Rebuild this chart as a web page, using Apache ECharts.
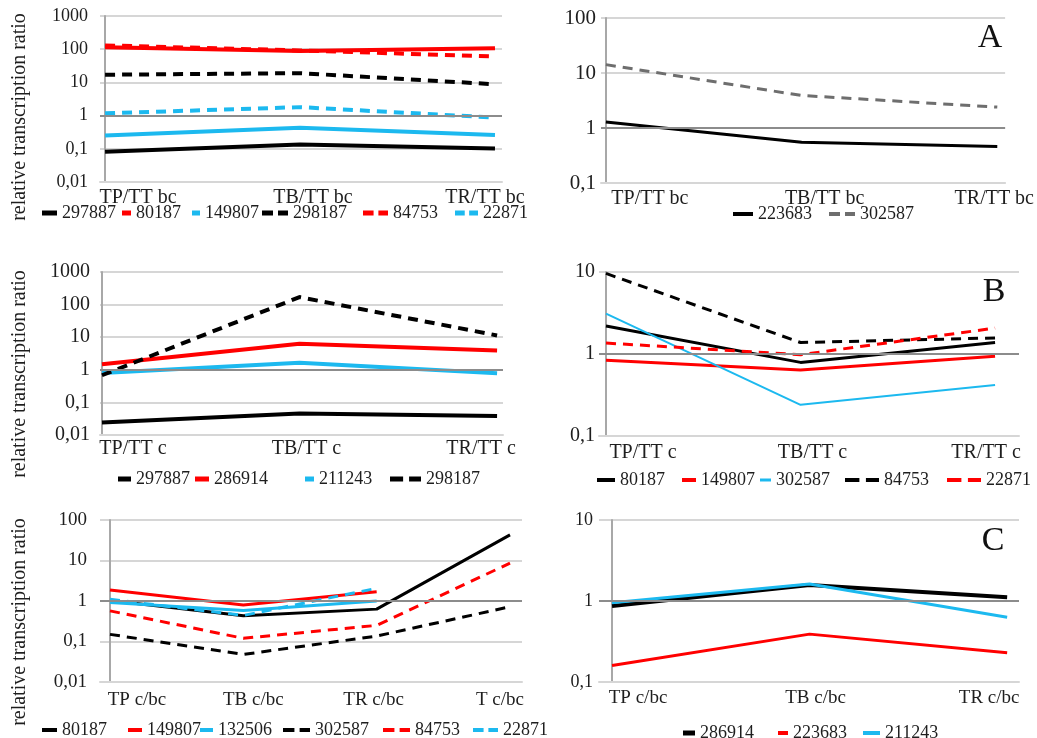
<!DOCTYPE html>
<html><head><meta charset="utf-8">
<script src="https://cdn.jsdelivr.net/npm/echarts@6/dist/echarts.min.js"></script>
<style>html,body{margin:0;padding:0;background:#fff}#c{width:1037px;height:738px}</style>
</head><body><div id="c"></div>
<script>
// ---------- categories ----------
const catsBC = ['TP/TT bc', 'TB/TT bc', 'TR/TT bc'];
const catsC = ['TP/TT c', 'TB/TT c', 'TR/TT c'];
const catsCBC4 = ['TP c/bc', 'TB c/bc', 'TR c/bc', 'T c/bc'];
const catsCBC3 = ['TP c/bc', 'TB c/bc', 'TR c/bc'];

// ---------- panel 1 (top-left) ----------
const p1_297887 = [0.081, 0.135, 0.102];
const p1_80187 = [115, 88, 107];
const p1_149807 = [0.25, 0.43, 0.26];
const p1_298187 = [17, 19, 8.8];
const p1_84753 = [130, 92, 60];
const p1_22871 = [1.17, 1.8, 0.87];

// ---------- panel 2 (A) ----------
const p2_223683 = [1.28, 0.55, 0.46];
const p2_302587 = [14.2, 3.9, 2.4];

// ---------- panel 3 (mid-left) ----------
const p3_297887 = [0.024, 0.046, 0.038];
const p3_286914 = [1.49, 6.3, 3.9];
const p3_211243 = [0.8, 1.65, 0.78];
const p3_298187 = [0.68, 170, 11.3];

// ---------- panel 4 (B) ----------
const p4_80187 = [2.2, 0.79, 1.38];
const p4_149807 = [0.84, 0.64, 0.94];
const p4_302587 = [3.1, 0.24, 0.42];
const p4_84753 = [9.6, 1.38, 1.57];
const p4_22871 = [1.36, 0.98, 2.07];

// ---------- panel 5 (bottom-left) ----------
const p5_80187 = [1.03, 0.43, 0.63, 43];
const p5_149807 = [1.87, 0.8, 1.7];
const p5_132506 = [0.92, 0.58, 1.0];
const p5_302587 = [0.15, 0.048, 0.136, 0.72];
const p5_84753 = [0.57, 0.12, 0.25, 8.6];
const p5_22871 = [1.1, 0.44, 2.06];

// ---------- panel 6 (C) ----------
const p6_286914 = [0.87, 1.58, 1.11];
const p6_223683 = [0.16, 0.39, 0.23];
const p6_211243 = [0.95, 1.62, 0.63];

// ---------- styling / layout ----------
const FONT = '"Liberation Serif","Times New Roman",serif';
const BLACK = '#000000', RED = '#ff0000', CYAN = '#1cb9ef', GRAY = '#6e6e6e';
const TXT = '#1e1e1e';
const ICON_SOLID = 'path://M0,0H10V1H0Z';
const ICON_DASH = 'path://M0,0H11V1H0Z M16,0H26V1H16Z';

const panels = [
  { rect: [100, 16, 402, 166], ymin: 0.01, ymax: 1000, xr: [-0.026, 2.036], cats: catsBC, lo: [33, 13, -10], cf: 20, cm: 6, yf: 18, ym: 12, ly: 213,
    series: [['297887', p1_297887, BLACK, 0, 4], ['80187', p1_80187, RED, 0, 4], ['149807', p1_149807, CYAN, 0, 4],
             ['298187', p1_298187, BLACK, 1, 4], ['84753', p1_84753, RED, 1, 4], ['22871', p1_22871, CYAN, 1, 4]],
    leg: [[42, 62], [122, 136], [192, 205], [262, 293], [363, 393], [455, 483]] },
  { rect: [601, 18, 406, 165], ymin: 0.1, ymax: 100, xr: [-0.025, 2.04], cats: catsBC, lo: [44, 23, -3], cf: 20, cm: 6, yf: 21, ym: 5, ly: 214,
    series: [['223683', p2_223683, BLACK, 0, 3], ['302587', p2_302587, GRAY, 1, 3]],
    leg: [[733, 758], [829, 860]] },
  { rect: [100, 272, 403, 163], ymin: 0.01, ymax: 1000, xr: [-0.01, 2.03], cats: catsC, lo: [31, 7, -16], cf: 20, cm: 4, yf: 20, ym: 10, ly: 479,
    series: [['297887', p3_297887, BLACK, 0, 4], ['286914', p3_286914, RED, 0, 4], ['211243', p3_211243, CYAN, 0, 4],
             ['298187', p3_298187, BLACK, 1, 4]],
    leg: [[118, 136], [195, 214], [305, 319], [390, 426]] },
  { rect: [599, 272, 420, 164], ymin: 0.1, ymax: 10, xr: [-0.036, 2.123], cats: catsC, lo: [37, 12, -9], cf: 20, cm: 7, yf: 20, ym: 4, ly: 480,
    series: [['80187', p4_80187, BLACK, 0, 3], ['149807', p4_149807, RED, 0, 3], ['302587', p4_302587, CYAN, 0, 2],
             ['84753', p4_84753, BLACK, 1, 3], ['22871', p4_22871, RED, 1, 3]],
    leg: [[597, 620], [682, 701], [760, 776], [845, 884], [947, 986]] },
  { rect: [100, 520, 422, 162], ymin: 0.01, ymax: 100, xr: [-0.075, 3.09], cats: catsCBC4, lo: [27, 10, -3, -10], cf: 19, cm: 9, yf: 19, ym: 13, ly: 730,
    series: [['80187', p5_80187, BLACK, 0, 3], ['149807', p5_149807, RED, 0, 3], ['132506', p5_132506, CYAN, 0, 3],
             ['302587', p5_302587, BLACK, 1, 3], ['84753', p5_84753, RED, 1, 3], ['22871', p5_22871, CYAN, 1, 3]],
    leg: [[42, 62], [128, 147], [200, 218], [283, 315], [383, 415], [473, 503]] },
  { rect: [599, 520, 420, 162], ymin: 0.1, ymax: 10, xr: [-0.066, 2.06], cats: catsCBC3, lo: [26, 6, -18], cf: 19, cm: 7, yf: 18, ym: 6, ly: 733,
    series: [['286914', p6_286914, BLACK, 0, 4], ['223683', p6_223683, RED, 0, 3], ['211243', p6_211243, CYAN, 0, 3]],
    leg: [[683, 700], [778, 793], [863, 885]] }
];

const grid = [], xAxis = [], yAxis = [], series = [], legend = [];
panels.forEach((p, i) => {
  grid.push({ left: p.rect[0], top: p.rect[1], width: p.rect[2], height: p.rect[3], containLabel: false });
  const rich = {};
  p.cats.forEach((c, k) => {
    const off = p.lo[k];
    rich['t' + k] = { fontFamily: FONT, fontSize: p.cf, color: TXT,
      padding: off >= 0 ? [0, 0, 0, 2 * off] : [0, -2 * off, 0, 0] };
  });
  xAxis.push({
    gridIndex: i, type: 'value', min: p.xr[0], max: p.xr[1],
    axisLine: { show: true, onZero: false, lineStyle: { color: '#d6d6d6', width: 2 } },
    axisTick: { show: false }, splitLine: { show: false },
    axisLabel: {
      customValues: p.cats.map((_, k) => k), margin: p.cm,
      formatter: (v) => { const k = Math.round(v); return '{t' + k + '|' + p.cats[k] + '}'; },
      rich: rich
    }
  });
  yAxis.push({
    gridIndex: i, type: 'log', logBase: 10, min: p.ymin, max: p.ymax,
    axisLine: { show: true, lineStyle: { color: '#a8a8a8', width: 2 } },
    axisTick: { show: false },
    splitLine: { show: true, lineStyle: { color: '#d6d6d6', width: 2 } },
    axisLabel: { fontFamily: FONT, fontSize: p.yf, color: TXT, margin: p.ym,
      formatter: (v) => String(+(+v).toPrecision(4)).replace('.', ',') }
  });
  // dark reference line at 1
  series.push({
    type: 'line', xAxisIndex: i, yAxisIndex: i, data: [[0, 1]], symbol: 'none', z: 1,
    lineStyle: { opacity: 0 }, silent: true,
    markLine: { silent: true, symbol: 'none', label: { show: false }, animation: false,
      lineStyle: { color: '#8c8c8c', width: 2, type: 'solid' }, data: [{ yAxis: 1 }] }
  });
  p.series.forEach((s, k) => {
    const nm = 'P' + i + ':' + s[0];
    series.push({
      name: nm, type: 'line', xAxisIndex: i, yAxisIndex: i, z: 3,
      data: s[1].map((v, j) => [j, v]), symbol: 'none', smooth: false,
      lineStyle: { color: s[2], width: s[4], type: s[3] ? [10, 7] : 'solid', cap: 'butt' },
      itemStyle: { color: s[2] }
    });
    const lg = p.leg[k];
    const ih = s[4] + 1;
    legend.push({
      left: lg[0], top: p.ly - 9, padding: 0, itemGap: 0,
      itemWidth: lg[1] - 5 - lg[0], itemHeight: ih,
      symbolKeepAspect: false,
      icon: s[3] ? ICON_DASH : ICON_SOLID,
      itemStyle: { color: s[2], borderWidth: 0 },
      data: [{ name: nm, icon: s[3] ? ICON_DASH : ICON_SOLID }], selectedMode: false,
      formatter: (n) => n.split(':')[1],
      textStyle: { fontFamily: FONT, fontSize: 18, color: TXT }
    });
  });
});

const yName = 'relative transcription ratio';
const graphic = [
  { type: 'text', x: 20, y: 117, rotation: Math.PI / 2, style: { text: yName, font: '20px ' + FONT, fill: TXT, align: 'center', verticalAlign: 'middle' } },
  { type: 'text', x: 20, y: 374, rotation: Math.PI / 2, style: { text: yName, font: '20px ' + FONT, fill: TXT, align: 'center', verticalAlign: 'middle' } },
  { type: 'text', x: 20, y: 622, rotation: Math.PI / 2, style: { text: yName, font: '20px ' + FONT, fill: TXT, align: 'center', verticalAlign: 'middle' } },
  { type: 'text', x: 990, y: 38, style: { text: 'A', font: '34px ' + FONT, fill: '#111', align: 'center', verticalAlign: 'middle' } },
  { type: 'text', x: 994, y: 292, style: { text: 'B', font: '34px ' + FONT, fill: '#111', align: 'center', verticalAlign: 'middle' } },
  { type: 'text', x: 993, y: 541, style: { text: 'C', font: '34px ' + FONT, fill: '#111', align: 'center', verticalAlign: 'middle' } }
];

const chart = echarts.init(document.getElementById('c'), null, { renderer: 'canvas' });
chart.setOption({
  animation: false,
  backgroundColor: '#ffffff',
  grid, xAxis, yAxis, series, legend, graphic
});
</script>
</body></html>
